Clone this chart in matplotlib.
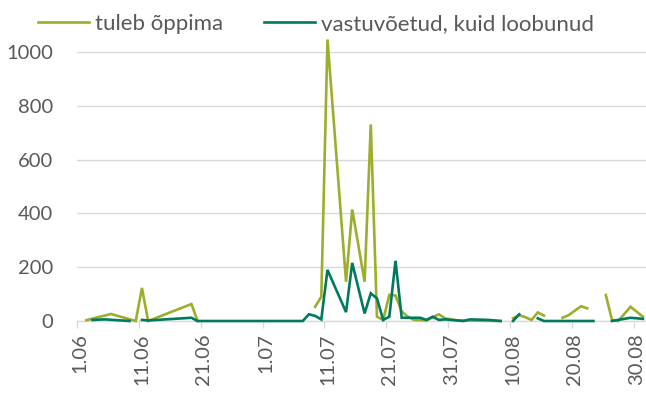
import matplotlib as mpl
import matplotlib.pyplot as plt
import numpy as np

nan = np.nan

# days counted from 1.06 (day 0); nan breaks the line where a day is blank
TULEB_DAYS = [1, 5, 9, 10, 11, 18, 19, 20,
              38, 39, 40, 43, 44, 46, 47, 48, 49, 50, 51, 52, 53, 54, 56, 58, 59, 61, 68, 69,
              70, 71, 72, 73, 74, 75, 76,
              78, 79, 81, 82, 83,
              85, 86, 87, 89, 91]
TULEB_VALUES = [3, 26, 0, 123, 0, 63, 0, nan,
                53, 90, 1047, 146, 415, 146, 731, 16, 4, 97, 95, 35, 16, 4, 2, 25, 10, 2, 0, nan,
                10, 22, 14, 4, 32, 20, nan,
                12, 22, 55, 47, nan,
                97, 4, 0, 53, 16]

LOOBUNUD_DAYS = [2, 4, 6, 8, 9,
                 10, 11, 18, 19, 36, 37, 38, 39, 40, 43, 44, 46, 47, 48, 49, 50, 51, 52,
                 55, 56, 57, 58, 59, 62, 63, 66, 68, 69,
                 70, 71, 72,
                 74, 75, 83, 84,
                 86, 88, 89, 91]
LOOBUNUD_VALUES = [4, 6, 3, 0, nan,
                   4, 2, 12, 0, 0, 25, 19, 6, 190, 33, 216, 28, 103, 84, 4, 16, 224, 12,
                   12, 4, 16, 4, 6, 0, 6, 4, 0, nan,
                   0, 25, nan,
                   10, 0, 0, nan,
                   0, 8, 12, 8]

TICK_DAYS = [0, 10, 20, 30, 40, 50, 60, 70, 80, 90]
TICK_LABELS = ["1.06", "11.06", "21.06", "1.07", "11.07", "21.07", "31.07", "10.08", "20.08", "30.08"]
N_DAYS = 92

SERIES = [
    ("tuleb õppima", TULEB_DAYS, TULEB_VALUES, "#9DAE2C"),
    ("vastuvõetud, kuid loobunud", LOOBUNUD_DAYS, LOOBUNUD_VALUES, "#007A5E"),
]

mpl.rcParams.update({
    "font.family": ["Lato", "DejaVu Sans"],
    "text.color": "#595959",
    "xtick.color": "#D9D9D9",
    "ytick.color": "#595959",
    "xtick.labelcolor": "#595959",
    "ytick.labelcolor": "#595959",
})

fig = plt.figure(figsize=(6.46, 3.94), dpi=100)
ax = fig.add_axes([77 / 646, 73 / 394, 1 - 77 / 646, (321 - 36) / 394])

handles = []
for label, days, values, color in SERIES:
    (line,) = ax.plot(days, values, color=color, lw=1.9, label=label,
                      solid_joinstyle="miter", clip_on=False, zorder=3)
    handles.append(line)

ax.set_xlim(-0.5, N_DAYS - 0.5)
ax.set_ylim(0, 1060)
ax.set_yticks(np.arange(0, 1001, 200))
ax.grid(axis="y", color="#D9D9D9", lw=1.0)
ax.set_axisbelow(True)

# labels sit on day centres, tick marks between categories
ax.set_xticks(TICK_DAYS)
ax.set_xticklabels(TICK_LABELS, rotation=90, fontsize=14.5)
ax.set_xticks([d - 0.5 for d in TICK_DAYS], minor=True)
ax.tick_params(axis="x", which="major", length=0, pad=9)
ax.tick_params(axis="x", which="minor", length=5, width=1.0, color="#D9D9D9")
ax.tick_params(axis="y", length=0, labelsize=14.5, pad=17)

for side in ["top", "right", "left"]:
    ax.spines[side].set_visible(False)
ax.spines["bottom"].set_color("#D9D9D9")
ax.spines["bottom"].set_linewidth(1.0)

fig.legend(
    handles=handles,
    loc="center left",
    bbox_to_anchor=(27 / 646, 1 - 24 / 394),
    ncol=2,
    frameon=False,
    fontsize=16,
    borderpad=0,
    handlelength=2.3,
    handletextpad=0.25,
    columnspacing=1.85,
)

fig.savefig("out.png", dpi=100)
